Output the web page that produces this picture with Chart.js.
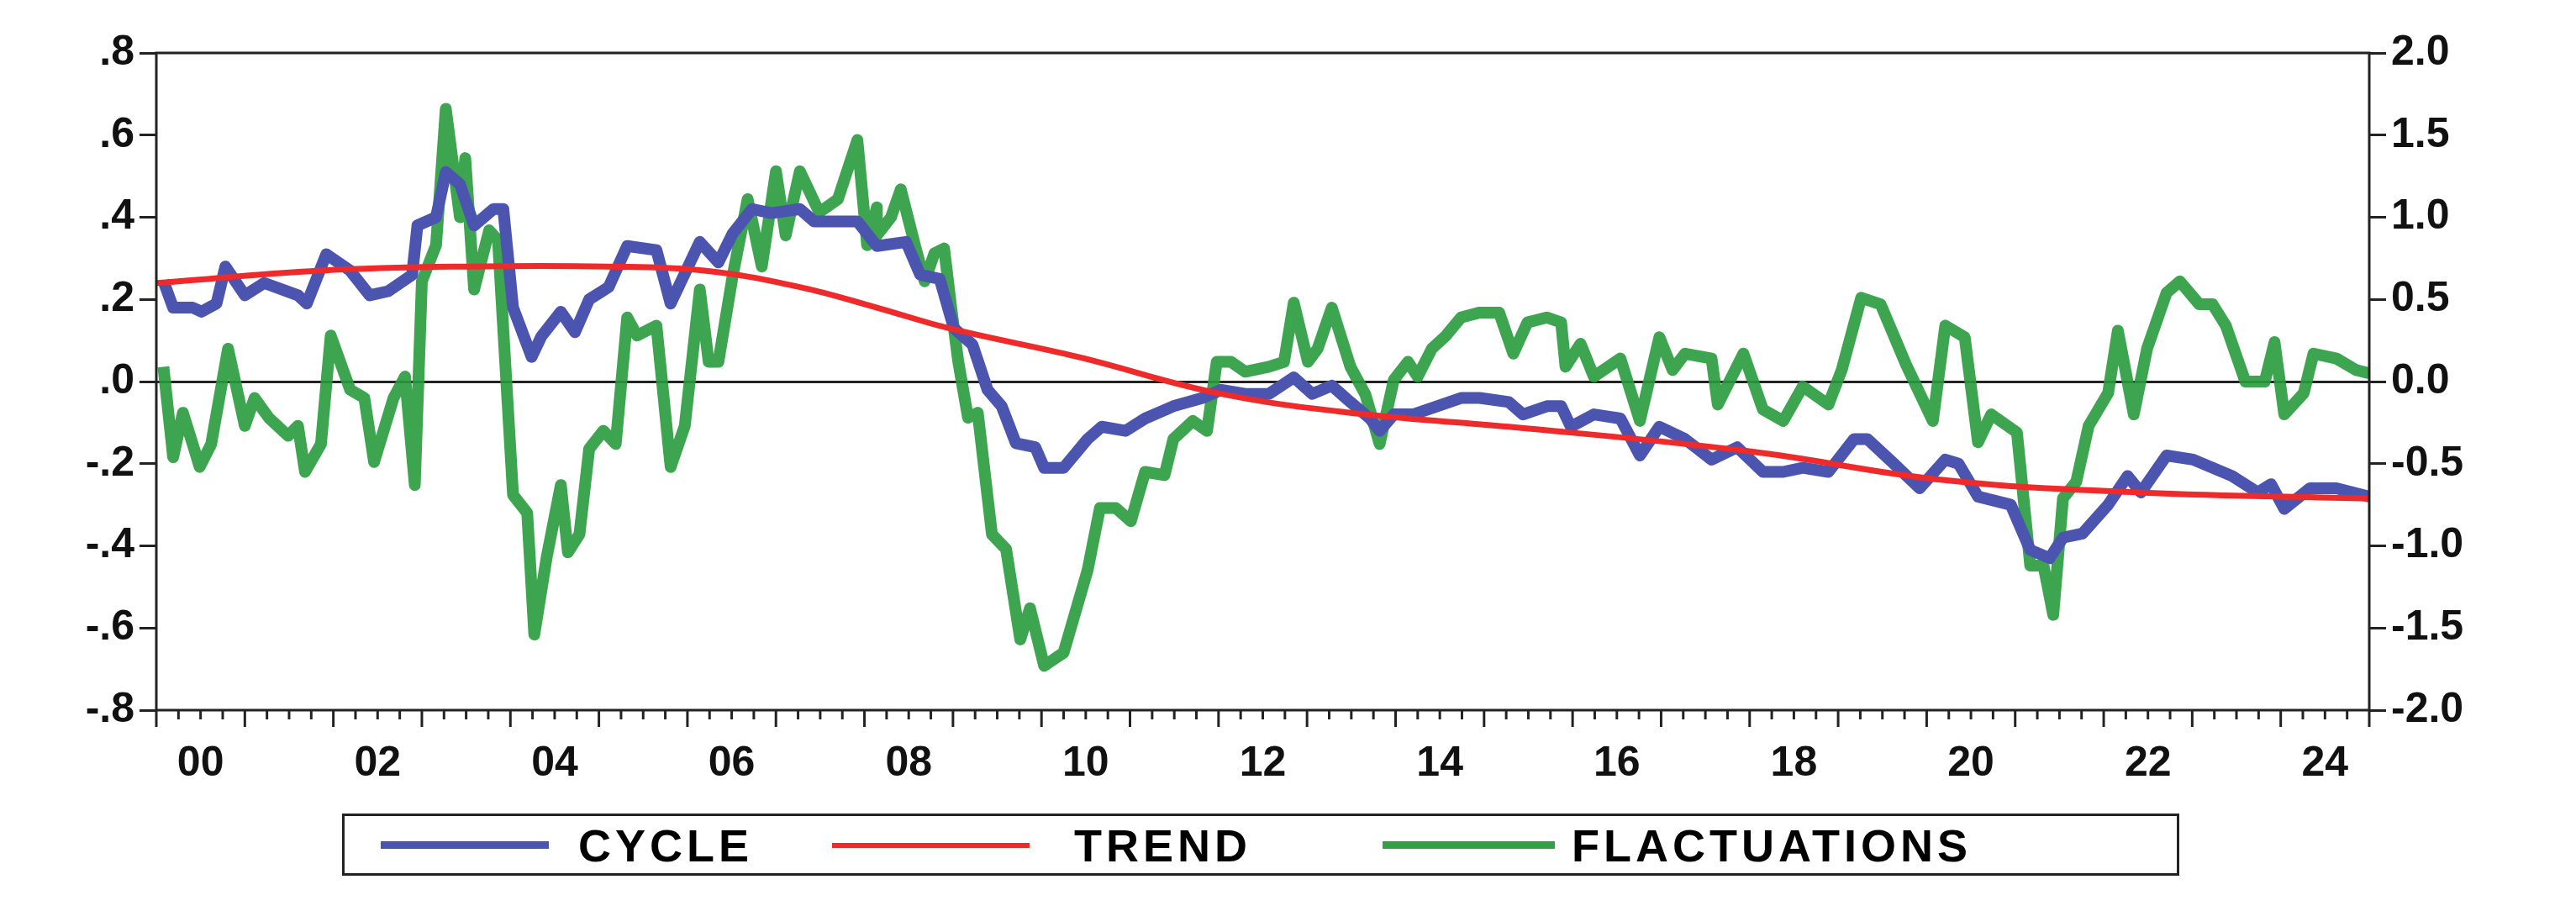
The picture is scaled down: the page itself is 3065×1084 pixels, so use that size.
<!DOCTYPE html>
<html>
<head>
<meta charset="utf-8">
<script src="https://cdn.jsdelivr.net/npm/chart.js@4/dist/chart.umd.min.js"></script>
<style>
body { margin: 0; background: #fff; }
#wrap { position: relative; width: 3065px; height: 1084px; }
#legend { position: absolute; left: 407px; top: 968px; width: 2180px; height: 68px; border: 3px solid #222;
  font: bold 54px "Liberation Sans", Arial, sans-serif; letter-spacing: 5px; }
.sw { position: absolute; top: 30px; height: 9px; }
.tx { position: absolute; top: 4px; }
</style>
</head>
<body>
<div id="wrap">
<canvas id="c" width="3065" height="1084"></canvas>
<div id="legend">
  <div class="sw" style="left:43px;width:200px;background:#4b55b0"></div><div class="tx" style="left:278px">CYCLE</div>
  <div class="sw" style="left:580px;width:235px;background:#ee2a2a;height:6px;top:32px"></div><div class="tx" style="left:868px">TREND</div>
  <div class="sw" style="left:1235px;width:205px;background:#34a045"></div><div class="tx" style="left:1460px">FLACTUATIONS</div>
</div>
</div>
<script>
// cycle (left axis)
const cycleX = [2000.08, 2000.19, 2000.41, 2000.51, 2000.68, 2000.78, 2001.0, 2001.22, 2001.6, 2001.7, 2001.92,
  2002.19, 2002.41, 2002.62, 2002.89, 2002.95, 2003.16, 2003.27, 2003.43, 2003.59, 2003.81, 2003.92,
  2004.03, 2004.24, 2004.35, 2004.57, 2004.73, 2004.89, 2005.11, 2005.32, 2005.65, 2005.81, 2006.14,
  2006.35, 2006.51, 2006.73, 2006.95, 2007.27, 2007.43, 2007.7, 2007.92,
  2008.14, 2008.47, 2008.63, 2008.85, 2009.01, 2009.22, 2009.39, 2009.55, 2009.71, 2009.93, 2010.03,
  2010.25, 2010.52, 2010.68, 2010.95, 2011.17, 2011.49, 2011.82, 2012.03, 2012.3, 2012.57, 2012.85,
  2013.06, 2013.28, 2013.49, 2013.71, 2013.82, 2013.98, 2014.2, 2014.47, 2014.74, 2014.95, 2015.28,
  2015.44, 2015.71, 2015.87, 2015.98,
  2016.24, 2016.54, 2016.76, 2016.98, 2017.27, 2017.57, 2017.86, 2018.15, 2018.38, 2018.6, 2018.89,
  2019.18, 2019.33, 2019.63, 2019.92, 2020.21, 2020.36, 2020.58, 2020.95, 2021.17, 2021.39, 2021.54,
  2021.76, 2022.05, 2022.27, 2022.42, 2022.71, 2023.01, 2023.23, 2023.45, 2023.74, 2023.89, 2024.04,
  2024.33, 2024.63, 2025.0];
const cycleY = [.245, .18, .18, .17, .19, .28, .21, .24, .21, .19, .31,
  .27, .21, .22, .26, .38, .40, .51, .48, .38, .42, .42,
  .18, .06, .11, .17, .12, .20, .23, .33, .32, .19, .34,
  .29, .36, .42, .41, .42, .39, .39, .39,
  .33, .34, .26, .25, .13, .09, -.02, -.06, -.15, -.16, -.21,
  -.21, -.14, -.11, -.12, -.09, -.06, -.04, -.02, -.03, -.03, .01,
  -.03, -.01, -.05, -.09, -.12, -.08, -.08, -.06, -.04, -.04, -.05,
  -.08, -.06, -.06, -.11,
  -.08, -.09, -.18, -.11, -.14, -.19, -.16, -.22, -.22, -.21, -.22,
  -.14, -.14, -.20, -.26, -.19, -.20, -.28, -.30, -.41, -.43, -.38,
  -.37, -.30, -.23, -.27, -.18, -.19, -.21, -.23, -.27, -.25, -.31,
  -.26, -.26, -.28];

// trend (left axis)
const trendX = [2000.0, 2001.86, 2003.49, 2005.11, 2006.19, 2007.27, 2008.14, 2008.95, 2010.41, 2012.03,
  2013.66, 2015.28, 2018.0, 2020.2, 2022.4, 2025.0];
const trendY = [.24, .27, .28, .28, .27, .23, .18, .13, .06, -.03, -.08, -.11, -.17, -.24, -.27, -.285];

// fluctuations (right axis)
const flucX = [2000.08, 2000.19, 2000.3, 2000.41, 2000.49, 2000.62, 2000.81, 2001.0, 2001.11, 2001.27, 2001.49,
  2001.6, 2001.68, 2001.86, 2001.97, 2002.19, 2002.35, 2002.46, 2002.68, 2002.81, 2002.92, 2003.0,
  2003.16, 2003.27, 2003.43, 2003.49, 2003.59, 2003.76, 2003.86, 2004.03, 2004.19, 2004.27, 2004.41,
  2004.57, 2004.65, 2004.78, 2004.89, 2005.05, 2005.19, 2005.32, 2005.43, 2005.65, 2005.81, 2005.97,
  2006.14, 2006.24, 2006.35, 2006.51, 2006.68, 2006.84, 2007.0, 2007.11, 2007.27, 2007.49, 2007.7,
  2007.92, 2008.03, 2008.14,
  2008.14, 2008.3, 2008.41, 2008.57, 2008.68, 2008.79, 2008.9, 2008.98, 2009.06, 2009.17, 2009.28,
  2009.44, 2009.6, 2009.76, 2009.87, 2010.03, 2010.25, 2010.52, 2010.66, 2010.84, 2011.01, 2011.17,
  2011.39, 2011.49, 2011.71, 2011.87, 2011.98, 2012.14, 2012.3, 2012.57, 2012.74, 2012.85, 2013.01,
  2013.12, 2013.28, 2013.49, 2013.66, 2013.82, 2013.98, 2014.14, 2014.25, 2014.41, 2014.57, 2014.74,
  2014.95, 2015.17, 2015.33, 2015.49, 2015.71, 2015.87, 2015.92, 2016.09,
  2016.24, 2016.54, 2016.76, 2016.98, 2017.13, 2017.27, 2017.57, 2017.64, 2017.93, 2018.15, 2018.38,
  2018.6, 2018.89, 2019.04, 2019.26, 2019.48, 2019.77, 2020.07, 2020.21, 2020.43, 2020.58, 2020.73,
  2021.02, 2021.17, 2021.32, 2021.43, 2021.54, 2021.69, 2021.83, 2022.05, 2022.16, 2022.34, 2022.49,
  2022.71, 2022.86, 2023.08, 2023.23, 2023.38, 2023.6, 2023.82, 2023.93, 2024.04, 2024.26, 2024.37,
  2024.63, 2024.85, 2025.0];
const flucY = [.09, -.46, -.19, -.38, -.52, -.38, .2, -.27, -.10, -.22, -.33,
  -.27, -.55, -.38, .28, -.05, -.10, -.49, -.10, .03, -.63, .61,
  .83, 1.66, 1.0, 1.36, .56, .92, .86, -.69, -.80, -1.54, -1.07,
  -.63, -1.04, -.93, -.41, -.30, -.38, .39, .28, .34, -.52, -.27,
  .56, .12, .12, .64, 1.11, .70, 1.28, .89, 1.28, 1.03, 1.11,
  1.47, .83, 1.06,
  .89, 1.0, 1.17, .83, .61, .78, .81, .45, .12, -.22, -.19,
  -.93, -1.02, -1.57, -1.38, -1.73, -1.65, -1.15, -.77, -.77, -.85, -.55,
  -.57, -.35, -.24, -.30, .12, .12, .06, .09, .12, .48, .12,
  .2, .45, .09, -.08, -.38, .01, .12, .03, .2, .28, .39,
  .42, .42, .17, .36, .39, .36, .09, .23,
  .03, .14, -.24, .27, .07, .17, .14, -.14, .17, -.17, -.24,
  -.03, -.14, .07, .51, .47, .10, -.24, .34, .27, -.37, -.20,
  -.31, -1.12, -1.12, -1.42, -.71, -.61, -.27, -.07, .31, -.20, .20,
  .54, .61, .47, .47, .34, .0, .0, .24, -.20, -.07, .17,
  .14, .07, .05];

const yearLabels = [2000, 2002, 2004, 2006, 2008, 2010, 2012, 2014, 2016, 2018, 2020, 2022, 2024];

const toPts = (xs, ys) => xs.map((x, i) => ({ x: x, y: ys[i] }));
const tickFont = { family: '"Liberation Sans", Arial, sans-serif', size: 50, weight: 'bold' };

const framePlugin = {
    id: 'frame',
    afterDraw(chart) {
        const ctx = chart.ctx, a = chart.chartArea, xs = chart.scales.x;
        ctx.save();
        ctx.strokeStyle = '#222';
        ctx.lineWidth = 3;
        ctx.strokeRect(a.left, a.top, a.right - a.left, a.bottom - a.top);
        // tick marks below the x axis, long ones at years, short ones at quarters
        for (let q = 2000 * 4; q <= 2025 * 4; q++) {
            const px = xs.getPixelForValue(q / 4);
            const len = q % 4 === 0 ? 20 : 11;
            ctx.beginPath();
            ctx.moveTo(px, a.bottom);
            ctx.lineTo(px, a.bottom + len);
            ctx.stroke();
        }
        ctx.restore();
    }
};

new Chart(document.getElementById('c').getContext('2d'), {
    type: 'line',
    data: {
        datasets: [
            { label: 'TREND', data: toPts(trendX, trendY), yAxisID: 'y', borderColor: '#ee2a2a', borderWidth: 7, tension: 0.4, pointRadius: 0 },
            { label: 'CYCLE', data: toPts(cycleX, cycleY), yAxisID: 'y', borderColor: '#4b55b0', borderWidth: 14, pointRadius: 0, borderJoinStyle: 'round' },
            { label: 'FLACTUATIONS', data: toPts(flucX, flucY), yAxisID: 'y2', borderColor: 'rgba(40,155,60,0.9)', borderWidth: 14, pointRadius: 0, borderJoinStyle: 'round' }
        ]
    },
    options: {
        responsive: false,
        animation: false,
        layout: { padding: { top: 63, bottom: 150 } },
        plugins: { legend: { display: false }, tooltip: { enabled: false } },
        scales: {
            x: {
                type: 'linear', min: 2000, max: 2025,
                afterBuildTicks: s => { s.ticks = yearLabels.map(v => ({ value: v + 0.5 })); },
                afterFit: s => { s.height = 89; },
                grid: { display: false },
                border: { display: false },
                ticks: {
                    font: tickFont, color: '#111', maxRotation: 0, autoSkip: false, padding: 26,
                    callback: v => String(Math.floor(v) % 100).padStart(2, '0')
                }
            },
            y: {
                position: 'left', min: -0.8, max: 0.8,
                afterFit: s => { s.width = 186; },
                ticks: { stepSize: 0.2, font: tickFont, color: '#111', padding: 6,
                    callback: v => { const t = Math.round(v * 10) / 10; return (t < 0 ? '-' : '') + '.' + Math.abs(Math.round(t * 10)); } },
                border: { display: false },
                grid: { drawOnChartArea: true, tickLength: 20, lineWidth: 3,
                    color: c => c.tick && Math.abs(c.tick.value) < 1e-9 ? '#222' : 'rgba(0,0,0,0)',
                    tickColor: '#222' }
            },
            y2: {
                position: 'right', min: -2, max: 2,
                afterFit: s => { s.width = 246; },
                ticks: { stepSize: 0.5, font: tickFont, color: '#111', padding: 6, callback: v => v.toFixed(1) },
                border: { display: false },
                grid: { drawOnChartArea: false, tickLength: 20, lineWidth: 3, tickColor: '#222' }
            }
        }
    },
    plugins: [framePlugin]
});
</script>
</body>
</html>
